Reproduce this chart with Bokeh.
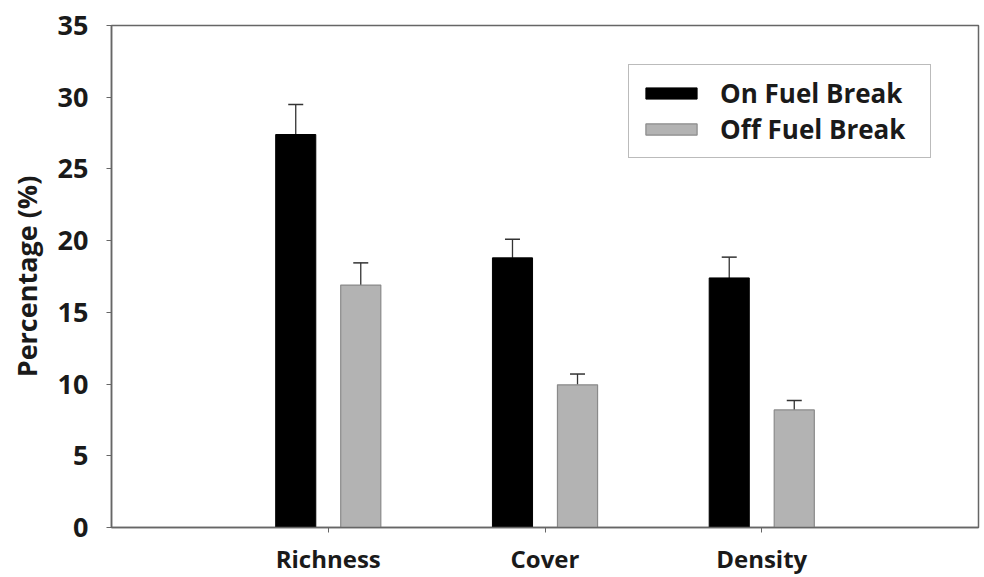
from bokeh.plotting import figure
from bokeh.models import ColumnDataSource, FixedTicker, Whisker, TeeHead, Legend, LegendItem
from bokeh.transform import dodge
from bokeh.embed import file_html
from bokeh.resources import INLINE

categories = ["Richness", "Cover", "Density"]
on_vals = [27.4, 18.8, 17.4]
on_err = [2.1, 1.3, 1.45]
off_vals = [16.9, 9.95, 8.2]
off_err = [1.55, 0.75, 0.65]
y_ticks = [0, 5, 10, 15, 20, 25, 30, 35]

xs = [i + 1 for i in range(len(categories))]
src = ColumnDataSource(dict(
    x=xs,
    on=on_vals,
    on_top=[v + e for v, e in zip(on_vals, on_err)],
    off=off_vals,
    off_top=[v + e for v, e in zip(off_vals, off_err)],
))

FONT = "Open Sans"

p = figure(width=982, height=577, output_backend="svg", toolbar_location=None,
           x_range=(0, len(categories) + 1), y_range=(0, 35),
           min_border_left=111, min_border_right=4, min_border_top=25, min_border_bottom=50)
p.xgrid.visible = False
p.ygrid.visible = False
p.outline_line_color = "#666666"
p.outline_line_width = 1.5
p.background_fill_color = "white"
p.border_fill_color = "white"

r_on = p.vbar(x=dodge("x", -0.15), top="on", width=0.185, source=src,
              fill_color="black", line_color="black")
r_off = p.vbar(x=dodge("x", 0.15), top="off", width=0.185, source=src,
               fill_color="#b3b3b3", line_color="#8a8a8a", line_width=1.2)

w1 = Whisker(base=dodge("x", -0.15), lower="on", upper="on_top", source=src,
             line_color="#333333", line_width=1.3,
             upper_head=TeeHead(size=15, line_color="#333333", line_width=1.5), lower_head=None)
w2 = Whisker(base=dodge("x", 0.15), lower="off", upper="off_top", source=src,
             line_color="#333333", line_width=1.3,
             upper_head=TeeHead(size=15, line_color="#333333", line_width=1.5), lower_head=None)
p.add_layout(w1)
p.add_layout(w2)

# axes
p.xaxis.ticker = FixedTicker(ticks=xs)
p.xaxis.major_label_overrides = {x: c for x, c in zip(xs, categories)}
p.xaxis.minor_tick_line_color = None
p.xaxis.major_tick_in = 0
p.xaxis.major_tick_out = 5
p.xaxis.major_label_standoff = 9
p.xaxis.major_label_text_font = FONT
p.xaxis.major_label_text_font_style = "bold"
p.xaxis.major_label_text_font_size = "24px"
p.xaxis.major_label_text_color = "#1a1a1a"

p.yaxis.ticker = FixedTicker(ticks=y_ticks)
p.yaxis.minor_tick_line_color = None
p.yaxis.major_tick_in = 0
p.yaxis.major_tick_out = 5
p.yaxis.major_label_standoff = 18
p.yaxis.major_label_text_font = FONT
p.yaxis.major_label_text_font_style = "bold"
p.yaxis.major_label_text_font_size = "27px"
p.yaxis.major_label_text_color = "#1a1a1a"
p.yaxis.axis_label = "Percentage (%)"
p.yaxis.axis_label_text_font = FONT
p.yaxis.axis_label_text_font_style = "bold"
p.yaxis.axis_label_text_font_size = "27px"
p.yaxis.axis_label_text_color = "#1a1a1a"
p.yaxis.axis_label_standoff = 10

for ax in (p.xaxis, p.yaxis):
    ax.axis_line_color = "#666666"
    ax.axis_line_width = 1.5
    ax.major_tick_line_color = "#666666"

legend = Legend(items=[LegendItem(label="On Fuel Break", renderers=[r_on]),
                       LegendItem(label="Off Fuel Break", renderers=[r_off])],
                location=(517, 369))
legend.glyph_width = 64
legend.glyph_height = 14
legend.label_height = 30
legend.label_width = 200
legend.spacing = 0
legend.padding = 10
legend.label_standoff = 17
legend.label_text_font = FONT
legend.label_text_font_style = "bold"
legend.label_text_font_size = "26px"
legend.label_text_color = "#1a1a1a"
legend.border_line_color = "#777777"
legend.border_line_width = 1.5
legend.background_fill_alpha = 1
p.add_layout(legend)

open("out.html", "w").write(file_html(p, INLINE))
